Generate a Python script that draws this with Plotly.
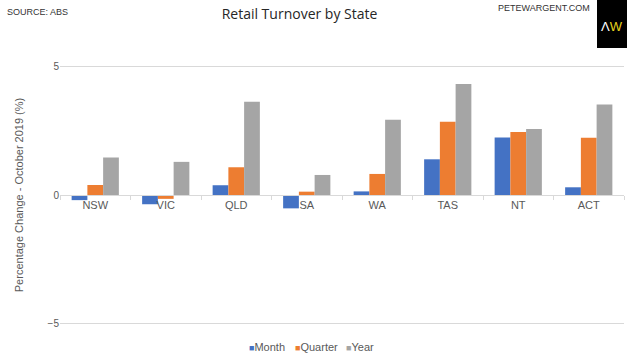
import plotly.graph_objects as go

states = ["NSW", "VIC", "QLD", "SA", "WA", "TAS", "NT", "ACT"]
month = [-0.20, -0.36, 0.38, -0.52, 0.14, 1.39, 2.24, 0.30]
quarter = [0.39, -0.15, 1.08, 0.13, 0.82, 2.85, 2.45, 2.23]
year = [1.46, 1.29, 3.63, 0.78, 2.93, 4.32, 2.57, 3.52]
y_ticks = [-5, 0, 5]

colors = {"Month": "#4472C4", "Quarter": "#ED7D31", "Year": "#A5A5A5"}
legend_widths = {"Month": 1, "Quarter": 6, "Year": 40}

fig = go.Figure()
for name, vals in [("Month", month), ("Quarter", quarter), ("Year", year)]:
    fig.add_trace(go.Bar(x=states, y=vals, name=name, marker_color=colors[name],
                         marker_line_width=0, showlegend=False))
for name in ["Month", "Quarter", "Year"]:
    fig.add_trace(go.Scatter(x=[None], y=[None], mode="markers",
                             name=f"<span style='color:{colors[name]};font-size:9px'>■</span>{name}",
                             legendwidth=legend_widths[name],
                             marker=dict(symbol="square", size=1, color="rgba(0,0,0,0)")))

T, B, L, R = 64, 34, 60, 16
font = "Liberation Sans, Arial, sans-serif"
fig.update_layout(
    width=640, height=360,
    margin=dict(l=L, r=R, t=T, b=B),
    paper_bgcolor="white", plot_bgcolor="white",
    barmode="group", bargap=0.33, bargroupgap=0,
    font=dict(family=font, color="#595959", size=11),
    title=dict(text="Retail Turnover by State", x=0.468, xanchor="center",
               y=1 - 14 / 360, yanchor="middle", yref="container",
               font=dict(family="Open Sans, sans-serif", size=14, color="#262626")),
    legend=dict(orientation="h", x=209 / 640, xanchor="left", xref="container",
                y=13 / 360, yanchor="middle", yref="container",
                font=dict(size=11, color="#595959"), itemwidth=30,
                tracegroupgap=0, itemclick=False, itemdoubleclick=False),
    showlegend=True,
)
fig.update_yaxes(range=[-5.1, 5.1], tickvals=y_ticks, showgrid=True, gridcolor="#D9D9D9",
                 gridwidth=1, zeroline=False, showline=False, ticks="", tickfont=dict(size=10),
                 automargin=False,
                 title=dict(text="Percentage Change - October 2019 (%)", font=dict(size=11, color="#595959"),
                            standoff=21))
fig.update_xaxes(anchor="free", position=0.5, showline=True, linecolor="#D9D9D9",
                 ticks="outside", tickson="boundaries", ticklen=4, tickcolor="#D9D9D9",
                 showgrid=False, tickfont=dict(size=11, color="#595959"), automargin=False)

# convert pixel positions to paper fractions
pw, ph = 640 - L - R, 360 - T - B
def px(x): return (x - L) / pw
def py(y): return (360 - B - y) / ph

fig.add_annotation(text="SOURCE: ABS", xref="paper", yref="paper", x=px(5), y=py(12),
                   xanchor="left", yanchor="middle", showarrow=False,
                   font=dict(size=9, color="#333333"))
fig.add_annotation(text="PETEWARGENT.COM", xref="paper", yref="paper", x=px(592), y=py(8),
                   xanchor="right", yanchor="middle", showarrow=False,
                   font=dict(size=9, color="#333333"))
fig.add_shape(type="rect", xref="paper", yref="paper", x0=px(597), x1=px(627), y0=py(48), y1=py(0),
              fillcolor="black", line_width=0)
fig.add_annotation(text="<span style='color:white'>Λ</span><span style='color:#E8D21D'>W</span>",
                   xref="paper", yref="paper", x=px(612), y=py(26), xanchor="center", yanchor="middle",
                   showarrow=False, font=dict(size=13, color="white"))

fig.write_html("out.html", config={"displayModeBar": False},
               post_script="document.body.style.margin='0';document.body.style.padding='0';")
